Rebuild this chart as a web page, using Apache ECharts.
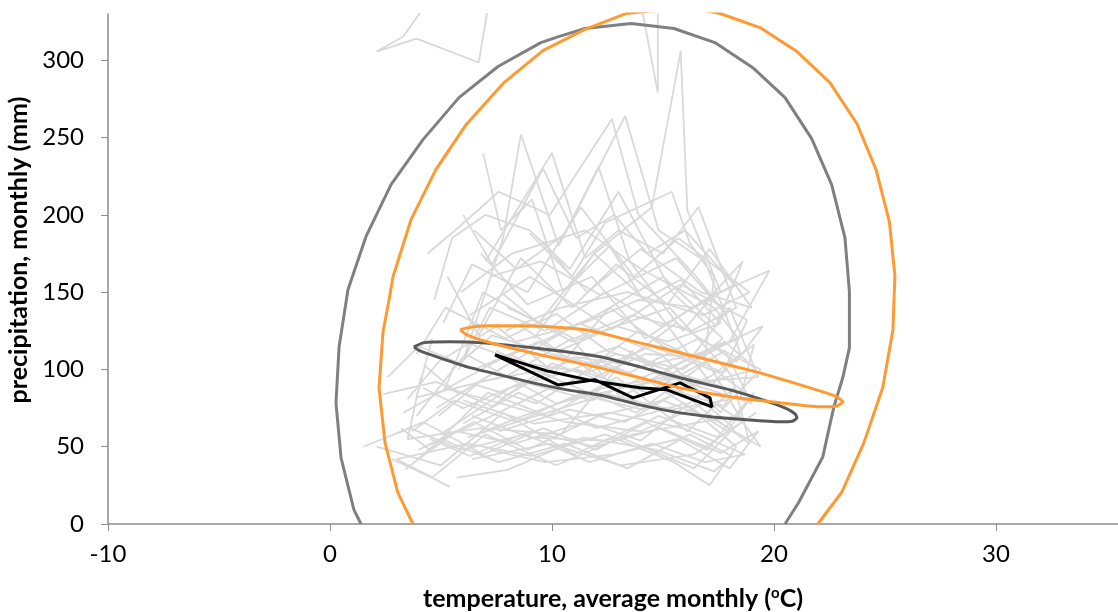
<!DOCTYPE html>
<html>
<head>
<meta charset="utf-8">
<script src="https://cdn.jsdelivr.net/npm/echarts@6/dist/echarts.min.js"></script>
<style>
	html, body { margin: 0; padding: 0; background: #fff; }
	#chart { width: 1118px; height: 612px; }
</style>
</head>
<body>
<div id="chart"></div>
<script>
// axis ticks
const xTicks = [-10, 0, 10, 20, 30];
const yTicks = [0, 50, 100, 150, 200, 250, 300];

// wide ellipses (temperature, precipitation)
const bigGrey = [
	[1.4, 0], [1.08, 9.1], [0.5, 42.7], [0.27, 78.4], [0.41, 114.6], [0.81, 151.6],
	[1.62, 185.9], [2.75, 219.6], [4.19, 248.7], [5.81, 275.9], [7.57, 296], [9.5, 311.5],
	[10.3, 315.4], [11.49, 320.6], [13.56, 323.8], [15.5, 320.6], [17.34, 311.5],
	[19.05, 295.3], [20.5, 275.9], [21.7, 249.4], [22.6, 219.6], [23.2, 185.2],
	[23.4, 150.3], [23.4, 114], [23.1, 94.6], [22.7, 75.8], [22.2, 43.4], [21.1, 13.6], [20.5, 0]
];
const bigOrange = [
	[3.74, 0], [3.06, 20.1], [2.48, 52.5], [2.21, 88.1], [2.39, 124.4], [2.66, 145],
	[2.84, 160], [3.65, 196.9], [4.77, 229.3], [6.13, 258.4], [7.84, 285.6], [9.59, 306.3],
	[11.49, 320], [13.33, 330.3], [16.1, 334.5], [17.57, 330.3], [19.37, 321.2],
	[21.04, 305.7], [22.52, 285.6], [23.74, 259], [24.6, 229.3], [25.2, 195.6],
	[25.45, 160.6], [25.4, 141.2], [25.36, 125.6], [24.9, 88.1], [24.05, 52.5],
	[23.06, 20.7], [21.98, 0]
];

// narrow ellipses
const smallGrey = [
	[3.78, 114.6], [4.19, 117.2], [5.41, 117.9], [6.89, 117.2], [9.14, 114.0], [12.16, 108.2],
	[13.96, 101.7], [15.77, 94.6], [18.02, 86.8], [19.5, 80.3], [20.59, 74.5], [20.95, 71.2],
	[21.04, 68.7], [20.86, 66.7], [20.27, 66.1], [18.78, 67.4], [17.25, 69.3], [15.77, 71.9],
	[13.96, 77.1], [12.16, 83.5], [10.68, 86.8], [9.14, 91.3], [7.66, 96.5], [6.17, 101.7],
	[4.95, 107.5], [4.05, 112.0], [3.78, 114.6]
];
const smallOrange = [
	[5.86, 125.6], [6.17, 126.9], [7.07, 128.2], [8.42, 128.2], [9.91, 127.6], [11.58, 125.6],
	[12.16, 123.7], [13.96, 117.2], [15.77, 110.8], [17.57, 104.3], [19.37, 97.8], [21.04, 90.7],
	[22.21, 85.5], [22.84, 82.3], [23.11, 79.0], [22.84, 76.4], [22.07, 75.8], [20.27, 78.4],
	[18.02, 82.3], [15.77, 88.1], [13.96, 94.6], [12.16, 101.0], [10.95, 104.9], [9.46, 109.5],
	[8.11, 114.0], [7.07, 117.9], [6.17, 122.4], [5.86, 125.6]
];

// mean monthly climate
const meanYear = [
	[7.43, 109.5], [10.27, 90], [11.94, 93.3], [13.65, 81.6], [15.77, 91.3], [17.12, 81.6],
	[17.21, 75.8], [15.18, 86.8], [13.96, 88.1], [11.85, 92.6], [9.77, 99.1], [7.88, 107.5],
	[7.43, 109.5]
];

// individual years
const otherYears = [
	[[3.2,62],[4.5,48],[7.1,85],[9.8,70],[12.9,95],[16.1,60],[18.2,88],[17.6,72],[14.9,110],[11.2,130],[7.4,98],[4.8,75]],
	[[4.1,95],[3.5,55],[6.8,62],[10.4,58],[13.6,112],[16.8,74],[18.9,52],[18.1,96],[15.3,140],[10.9,118],[6.9,150],[5.2,88]],
	[[2.1,50],[5.0,38],[7.8,72],[11.0,45],[14.2,66],[17.0,48],[19.1,85],[17.9,60],[14.4,92],[10.2,78],[6.1,110],[3.9,70]],
	[[4.6,120],[3.9,82],[8.0,96],[10.9,120],[13.1,82],[15.9,105],[18.4,120],[17.3,140],[14.0,165],[11.5,190],[8.2,175],[5.9,150]],
	[[5.4,24],[3.0,42],[6.2,52],[9.1,44],[12.4,58],[15.5,40],[17.1,25],[18.3,50],[16.0,78],[12.0,62],[8.5,85],[6.0,65]],
	[[3.5,81],[4.9,105],[7.5,128],[10.1,98],[12.6,140],[15.0,115],[17.7,98],[18.8,132],[15.8,155],[12.7,126],[9.0,160],[6.3,135]],
	[[6.1,110],[7.8,185],[8.6,252],[10.3,180],[12.1,231],[13.5,170],[15.9,125],[17.4,150],[14.2,120],[11.8,160],[8.9,142],[6.8,175]],
	[[4.4,175],[5.8,192],[7.6,215],[9.9,200],[12.7,262],[13.9,200],[16.5,160],[17.9,135],[15.6,172],[12.2,148],[9.5,170],[7.2,160]],
	[[6.5,190],[8.4,165],[10.6,188],[13.3,264],[14.8,190],[16.9,170],[18.5,110],[17.2,90],[14.6,140],[11.9,175],[9.4,130],[7.7,150]],
	[[5.0,350],[3.3,315.4],[2.1,305.7],[3.9,314.1],[6.7,298.6],[7.3,350]],
	[[13.9,345],[14.77,279],[14.77,345]],
	[[9.2,120],[11.9,175],[14.5,205],[15.8,306],[16.1,203],[17.6,150],[19.8,164],[18.0,118],[15.1,95],[12.3,88],[8.7,70],[6.6,58]],
	[[2.9,58],[4.2,66],[6.9,45],[9.6,62],[12.0,48],[14.8,70],[17.5,56],[19.2,72],[16.4,45],[13.1,38],[9.9,52],[6.4,42]],
	[[3.8,40],[5.7,60],[8.3,52],[11.5,66],[14.0,54],[16.7,84],[18.6,66],[17.0,105],[13.8,72],[10.5,92],[7.0,68],[4.3,50]],
	[[4.9,70],[6.6,90],[9.3,78],[12.2,105],[15.2,88],[17.8,76],[19.4,100],[16.6,120],[13.5,98],[10.0,110],[7.3,122],[5.5,100]],
	[[1.5,50],[3.6,62],[5.9,48],[8.8,58],[11.7,40],[14.5,52],[16.9,40],[18.7,45],[15.9,62],[12.6,72],[9.2,65],[6.0,80]],
	[[3.3,72],[5.3,88],[8.1,110],[10.7,90],[13.9,125],[16.3,108],[18.0,140],[19.3,95],[16.2,92],[13.0,115],[9.7,100],[6.7,92]],
	[[5.1,130],[6.4,168],[8.9,150],[11.3,205],[13.7,160],[15.7,185],[17.5,165],[18.9,150],[16.8,135],[13.4,150],[10.4,140],[7.9,125]],
	[[4.7,145],[5.5,185],[7.0,200],[9.0,190],[10.8,165],[13.0,215],[15.4,150],[17.7,120],[15.9,100],[12.9,110],[9.9,95],[7.5,112]],
	[[6.0,200],[7.3,168],[9.6,230],[11.1,185],[12.8,200],[14.3,175],[16.0,190],[18.2,155],[16.4,140],[13.9,145],[11.4,130],[8.4,118]],
	[[2.6,95],[4.0,115],[6.5,100],[9.4,118],[12.3,95],[15.6,130],[18.3,105],[19.5,128],[17.1,112],[14.1,102],[11.0,108],[7.8,82]],
	[[3.4,35],[5.0,55],[7.6,40],[10.6,52],[13.4,36],[16.2,58],[18.1,44],[17.3,34],[14.7,48],[11.4,56],[8.0,35],[5.7,30]],
	[[4.2,88],[6.0,75],[8.7,92],[11.8,80],[14.6,98],[17.3,86],[19.0,78],[17.8,112],[14.3,85],[11.1,100],[8.1,88],[5.0,58]],
	[[5.8,100],[7.2,140],[9.7,125],[12.4,150],[14.9,128],[17.0,145],[18.6,170],[17.4,128],[15.0,160],[12.0,135],[9.1,115],[6.9,102]],
	[[3.7,60],[5.6,80],[8.4,66],[11.2,84],[14.1,74],[17.2,96],[19.1,116],[18.5,82],[15.4,74],[12.5,84],[9.3,70],[6.2,56]],
	[[6.9,240],[7.7,190],[9.1,210],[10.5,150],[12.6,180],[14.1,145],[15.8,158],[17.6,130],[15.2,118],[12.9,128],[10.3,112],[8.6,128]],
	[[4.5,55],[6.3,44],[9.0,60],[11.9,50],[14.9,62],[17.6,46],[19.3,60],[18.0,36],[15.7,55],[12.8,45],[9.7,40],[7.2,48]],
	[[2.4,84],[4.8,92],[7.3,76],[10.0,104],[13.2,88],[16.0,96],[18.8,84],[17.5,98],[14.5,115],[11.6,98],[8.8,104],[6.0,118]],
	[[5.3,160],[6.7,122],[8.6,172],[10.9,140],[12.9,168],[15.2,142],[17.1,178],[19.0,140],[16.7,150],[14.0,178],[11.6,150],[9.0,188]],
	[[3.9,110],[5.2,140],[7.9,120],[10.2,136],[12.5,112],[15.1,100],[17.8,118],[19.2,100],[16.0,88],[13.3,66],[10.8,74],[7.6,60]],
	[[4.0,48],[6.5,66],[8.9,48],[12.1,70],[15.0,80],[17.5,66],[19.4,50],[18.4,70],[15.1,62],[12.3,54],[9.0,56],[6.4,70]],
	[[7.0,170],[8.2,198],[10.0,240],[11.5,172],[13.0,190],[15.0,175],[16.6,205],[18.3,140],[16.3,125],[13.6,135],[11.0,120],[8.0,140]],
	[[9.6,183],[10.9,160],[12.4,195],[15.4,215],[16.2,182],[17.3,160],[16.9,108],[14.2,110],[11.5,92],[8.3,106],[5.8,84],[4.3,102]],
	[[2.8,42],[4.6,30],[7.0,58],[10.2,38],[13.1,56],[16.4,36],[18.2,62],[16.9,78],[14.0,60],[10.6,66],[7.7,78],[5.1,88]]
];

const FONT = 'Lato, "Noto Sans", sans-serif';
const AXIS_GREY = '#8c8c8c';

const line = (data, color, width, z, smooth) => ({
	type: 'line',
	data,
	symbol: 'none',
	smooth: smooth || false,
	silent: true,
	z,
	lineStyle: { color, width }
});

const series = [
	...otherYears.map(d => line(d, '#d9d9d9', 1.8, 1)),
	line(meanYear, '#000000', 3, 3),
	line(bigGrey, '#808080', 3, 4),
	line(bigOrange, '#ff9a33', 3, 5),
	line(smallGrey, '#595959', 3, 6, 0.15),
	line(smallOrange, '#ff9a33', 3, 7, 0.15)
];

const chart = echarts.init(document.getElementById('chart'));
chart.setOption({
	animation: false,
	backgroundColor: '#fff',
	grid: { left: 108, right: 0, top: 14, bottom: 88, outerBoundsMode: 'none', containLabel: false },
	xAxis: {
		type: 'value',
		min: -10,
		max: 35.5,
		interval: 10,
		name: 'temperature, average monthly ({sup|o}C)',
		nameLocation: 'middle',
		nameGap: 62,
		nameTextStyle: {
			fontFamily: FONT, fontSize: 25, fontWeight: 'bold', color: '#000',
			rich: { sup: { fontFamily: FONT, fontSize: 15, fontWeight: 'bold', color: '#000', verticalAlign: 'top', padding: [0, 0, 10, 0] } }
		},
		axisLine: { onZero: false, lineStyle: { color: AXIS_GREY, width: 1.5 } },
		axisTick: { show: true, length: 7, customValues: xTicks, lineStyle: { color: AXIS_GREY } },
		axisLabel: { customValues: xTicks, margin: 18, fontFamily: FONT, fontSize: 24, color: '#000' },
		splitLine: { show: false }
	},
	yAxis: {
		type: 'value',
		min: 0,
		max: 330,
		interval: 50,
		name: 'precipitation, monthly (mm)',
		nameLocation: 'middle',
		nameGap: 70,
		nameTextStyle: { fontFamily: FONT, fontSize: 25, fontWeight: 'bold', color: '#000', padding: [0, 0, 0, 38] },
		axisLine: { show: true, onZero: false, lineStyle: { color: AXIS_GREY, width: 1.5 } },
		axisTick: { show: true, length: 7, customValues: yTicks, lineStyle: { color: AXIS_GREY } },
		axisLabel: { customValues: yTicks, margin: 24, fontFamily: FONT, fontSize: 24, color: '#000' },
		splitLine: { show: false }
	},
	series
});
</script>
</body>
</html>
